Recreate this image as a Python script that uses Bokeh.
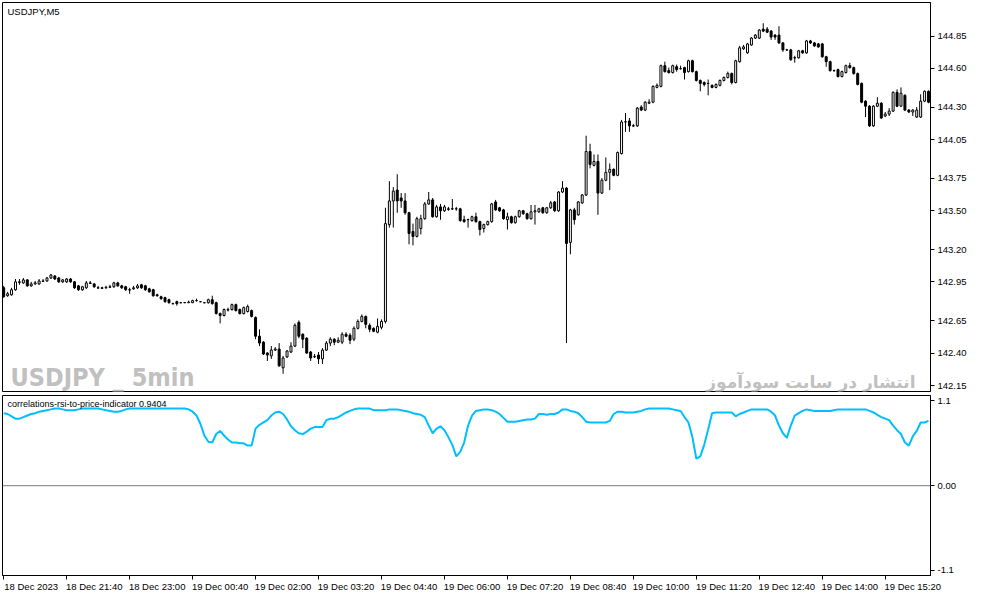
from bokeh.plotting import figure
from bokeh.layouts import column
from bokeh.models import (ColumnDataSource, Range1d, FixedTicker, NumeralTickFormatter, Label,
                          Span, LinearAxis)
from bokeh.embed import file_html
from bokeh.resources import INLINE

# USDJPY M5 bars, bar 0 = 18 Dec 2023 20:20
opens = [
    142.905, 142.844, 142.851, 142.890, 142.951, 142.943, 142.966, 142.920, 142.935, 142.935,
    142.958, 142.958, 142.981, 142.996, 142.981, 142.951, 142.951, 142.973, 142.951, 142.920,
    142.890, 142.905, 142.943, 142.935, 142.905, 142.905, 142.905, 142.909, 142.913, 142.943,
    142.920, 142.913, 142.890, 142.897, 142.905, 142.928, 142.920, 142.897, 142.890, 142.851,
    142.836, 142.829, 142.813, 142.783, 142.798, 142.790, 142.790, 142.790, 142.790, 142.806,
    142.798, 142.790, 142.790, 142.813, 142.790, 142.706, 142.691, 142.733, 142.737, 142.775,
    142.737, 142.706, 142.722, 142.729, 142.676, 142.531, 142.485, 142.401, 142.379, 142.424,
    142.432, 142.287, 142.371, 142.409, 142.455, 142.638, 142.546, 142.516, 142.409, 142.371,
    142.386, 142.356, 142.424, 142.478, 142.508, 142.485, 142.485, 142.546, 142.539, 142.508,
    142.592, 142.645, 142.684, 142.615, 142.592, 142.562, 142.600, 142.645, 143.393, 143.576,
    143.660, 143.599, 143.576, 143.485, 143.340, 143.302, 143.363, 143.439, 143.553, 143.584,
    143.454, 143.530, 143.500, 143.515, 143.515, 143.515, 143.515, 143.431, 143.431, 143.424,
    143.454, 143.416, 143.363, 143.393, 143.416, 143.568, 143.523, 143.507, 143.431, 143.454,
    143.408, 143.454, 143.500, 143.477, 143.439, 143.492, 143.492, 143.523, 143.485, 143.523,
    143.568, 143.500, 143.645, 143.675, 143.256, 143.507, 143.469, 143.561, 143.622, 143.958,
    143.851, 143.881, 143.637, 143.736, 143.797, 143.820, 143.774, 143.942, 144.186, 144.194,
    144.156, 144.156, 144.301, 144.278, 144.331, 144.339, 144.453, 144.461, 144.621, 144.583,
    144.568, 144.613, 144.598, 144.606, 144.575, 144.659, 144.575, 144.507, 144.491, 144.484,
    144.469, 144.453, 144.469, 144.507, 144.530, 144.560, 144.491, 144.652, 144.751, 144.720,
    144.781, 144.834, 144.834, 144.903, 144.903, 144.888, 144.857, 144.857, 144.797, 144.743,
    144.743, 144.682, 144.682, 144.736, 144.720, 144.812, 144.797, 144.789, 144.789, 144.690,
    144.652, 144.583, 144.591, 144.537, 144.568, 144.621, 144.606, 144.560, 144.484, 144.347,
    144.308, 144.156, 144.308, 144.331, 144.232, 144.247, 144.270, 144.415, 144.308, 144.392,
    144.278, 144.263, 144.224, 144.224, 144.347, 144.423,
]
highs = [
    142.920, 142.874, 142.905, 142.973, 142.973, 142.981, 142.973, 142.951, 142.958, 142.973,
    142.973, 142.989, 143.012, 143.004, 142.989, 142.973, 142.981, 142.981, 142.958, 142.928,
    142.920, 142.958, 142.958, 142.943, 142.920, 142.913, 142.920, 142.928, 142.951, 142.951,
    142.928, 142.920, 142.905, 142.920, 142.935, 142.935, 142.928, 142.905, 142.897, 142.859,
    142.844, 142.836, 142.821, 142.790, 142.806, 142.794, 142.794, 142.806, 142.813, 142.821,
    142.802, 142.794, 142.821, 142.844, 142.798, 142.714, 142.745, 142.752, 142.783, 142.783,
    142.745, 142.760, 142.775, 142.737, 142.684, 142.584, 142.493, 142.409, 142.455, 142.447,
    142.478, 142.379, 142.424, 142.485, 142.630, 142.653, 142.554, 142.523, 142.417, 142.394,
    142.409, 142.439, 142.493, 142.523, 142.516, 142.523, 142.562, 142.562, 142.554, 142.607,
    142.661, 142.699, 142.691, 142.630, 142.600, 142.668, 142.661, 143.523, 143.729, 143.683,
    143.782, 143.637, 143.637, 143.492, 143.401, 143.454, 143.469, 143.568, 143.645, 143.599,
    143.545, 143.553, 143.545, 143.530, 143.591, 143.530, 143.523, 143.462, 143.439, 143.462,
    143.485, 143.424, 143.401, 143.424, 143.561, 143.584, 143.530, 143.515, 143.485, 143.462,
    143.462, 143.507, 143.507, 143.485, 143.545, 143.545, 143.523, 143.530, 143.530, 143.576,
    143.576, 143.652, 143.729, 143.683, 143.515, 143.523, 143.576, 143.629, 144.080, 144.018,
    143.935, 143.935, 143.752, 143.912, 143.866, 143.828, 143.958, 144.202, 144.255, 144.217,
    144.171, 144.301, 144.316, 144.347, 144.362, 144.469, 144.484, 144.629, 144.652, 144.606,
    144.629, 144.629, 144.621, 144.613, 144.667, 144.667, 144.583, 144.514, 144.499, 144.514,
    144.476, 144.484, 144.514, 144.537, 144.575, 144.568, 144.667, 144.774, 144.781, 144.797,
    144.842, 144.865, 144.903, 144.949, 144.919, 144.896, 144.865, 144.926, 144.804, 144.751,
    144.751, 144.697, 144.743, 144.743, 144.820, 144.820, 144.804, 144.797, 144.797, 144.697,
    144.659, 144.591, 144.598, 144.583, 144.629, 144.644, 144.613, 144.568, 144.491, 144.354,
    144.316, 144.316, 144.377, 144.339, 144.263, 144.293, 144.423, 144.438, 144.453, 144.400,
    144.286, 144.286, 144.301, 144.400, 144.430, 144.430,
]
lows = [
    142.829, 142.836, 142.844, 142.882, 142.928, 142.935, 142.913, 142.913, 142.928, 142.928,
    142.951, 142.951, 142.973, 142.966, 142.943, 142.943, 142.943, 142.943, 142.897, 142.882,
    142.882, 142.897, 142.935, 142.905, 142.897, 142.897, 142.897, 142.905, 142.905, 142.913,
    142.897, 142.882, 142.859, 142.890, 142.897, 142.897, 142.882, 142.867, 142.836, 142.836,
    142.813, 142.790, 142.783, 142.779, 142.767, 142.787, 142.787, 142.787, 142.787, 142.798,
    142.794, 142.787, 142.783, 142.775, 142.699, 142.630, 142.684, 142.722, 142.729, 142.722,
    142.699, 142.699, 142.714, 142.676, 142.508, 142.455, 142.386, 142.340, 142.356, 142.417,
    142.295, 142.241, 142.363, 142.401, 142.447, 142.516, 142.439, 142.394, 142.340, 142.363,
    142.317, 142.317, 142.417, 142.455, 142.462, 142.478, 142.470, 142.523, 142.470, 142.493,
    142.584, 142.638, 142.592, 142.562, 142.562, 142.554, 142.584, 142.630, 143.370, 143.370,
    143.485, 143.523, 143.469, 143.241, 143.233, 143.294, 143.317, 143.431, 143.545, 143.447,
    143.447, 143.431, 143.492, 143.500, 143.507, 143.500, 143.416, 143.408, 143.370, 143.416,
    143.408, 143.309, 143.332, 143.386, 143.408, 143.500, 143.492, 143.431, 143.355, 143.401,
    143.401, 143.447, 143.469, 143.431, 143.431, 143.393, 143.485, 143.477, 143.477, 143.515,
    143.492, 143.492, 143.637, 142.478, 143.164, 143.393, 143.462, 143.553, 143.614, 143.828,
    143.843, 143.469, 143.629, 143.729, 143.660, 143.767, 143.767, 143.935, 144.110, 144.110,
    144.148, 144.148, 144.270, 144.270, 144.324, 144.331, 144.446, 144.453, 144.568, 144.560,
    144.560, 144.575, 144.591, 144.514, 144.568, 144.568, 144.499, 144.423, 144.461, 144.392,
    144.446, 144.446, 144.461, 144.499, 144.522, 144.476, 144.484, 144.644, 144.743, 144.713,
    144.774, 144.827, 144.827, 144.880, 144.873, 144.820, 144.820, 144.789, 144.728, 144.736,
    144.659, 144.644, 144.675, 144.713, 144.713, 144.789, 144.766, 144.759, 144.682, 144.613,
    144.575, 144.575, 144.530, 144.530, 144.560, 144.598, 144.552, 144.469, 144.331, 144.224,
    144.148, 144.148, 144.301, 144.209, 144.224, 144.232, 144.263, 144.301, 144.301, 144.270,
    144.255, 144.232, 144.217, 144.217, 144.339, 144.331,
]
closes = [
    142.836, 142.859, 142.890, 142.951, 142.947, 142.966, 142.920, 142.935, 142.943, 142.958,
    142.954, 142.981, 143.004, 142.973, 142.951, 142.966, 142.973, 142.951, 142.905, 142.890,
    142.913, 142.943, 142.939, 142.913, 142.903, 142.901, 142.909, 142.913, 142.943, 142.920,
    142.905, 142.890, 142.888, 142.905, 142.920, 142.905, 142.890, 142.874, 142.844, 142.844,
    142.821, 142.798, 142.790, 142.781, 142.783, 142.789, 142.791, 142.794, 142.806, 142.807,
    142.797, 142.789, 142.813, 142.783, 142.706, 142.691, 142.737, 142.737, 142.775, 142.729,
    142.706, 142.752, 142.760, 142.684, 142.531, 142.478, 142.394, 142.386, 142.424, 142.432,
    142.302, 142.363, 142.417, 142.455, 142.615, 142.531, 142.508, 142.401, 142.363, 142.375,
    142.356, 142.424, 142.478, 142.508, 142.485, 142.500, 142.546, 142.531, 142.500, 142.592,
    142.645, 142.684, 142.623, 142.584, 142.569, 142.607, 142.645, 143.401, 143.576, 143.652,
    143.576, 143.576, 143.485, 143.325, 143.302, 143.439, 143.439, 143.553, 143.584, 143.454,
    143.530, 143.500, 143.530, 143.511, 143.514, 143.516, 143.424, 143.416, 143.432, 143.454,
    143.416, 143.355, 143.393, 143.416, 143.553, 143.507, 143.500, 143.439, 143.454, 143.408,
    143.454, 143.500, 143.477, 143.439, 143.492, 143.500, 143.515, 143.485, 143.523, 143.561,
    143.500, 143.645, 143.675, 143.248, 143.507, 143.431, 143.568, 143.622, 143.958, 143.858,
    143.881, 143.637, 143.736, 143.797, 143.820, 143.774, 143.950, 144.186, 144.188, 144.156,
    144.155, 144.293, 144.278, 144.339, 144.339, 144.461, 144.469, 144.621, 144.575, 144.568,
    144.621, 144.591, 144.597, 144.568, 144.659, 144.575, 144.507, 144.484, 144.476, 144.483,
    144.453, 144.476, 144.507, 144.530, 144.560, 144.491, 144.659, 144.759, 144.766, 144.789,
    144.834, 144.857, 144.896, 144.888, 144.880, 144.842, 144.842, 144.797, 144.743, 144.742,
    144.667, 144.681, 144.736, 144.720, 144.812, 144.797, 144.774, 144.766, 144.690, 144.652,
    144.583, 144.582, 144.537, 144.575, 144.621, 144.606, 144.560, 144.476, 144.339, 144.308,
    144.156, 144.308, 144.331, 144.217, 144.247, 144.270, 144.415, 144.308, 144.408, 144.278,
    144.263, 144.278, 144.278, 144.347, 144.423, 144.339,
]
# correlations-rsi-to-price-indicator, one value per bar
corr = [
    0.94, 0.93, 0.90, 0.87, 0.87, 0.89, 0.91, 0.93, 0.94, 0.96,
    0.97, 0.98, 0.99, 1.00, 1.00, 0.99, 0.98, 0.98, 0.98, 0.99,
    1.00, 1.00, 1.00, 1.00, 1.00, 0.99, 0.98, 0.97, 0.96, 0.96,
    0.97, 0.99, 1.00, 1.00, 1.00, 1.00, 1.00, 1.00, 1.00, 1.00,
    1.00, 1.00, 1.00, 1.00, 1.00, 1.00, 1.00, 0.99, 0.96, 0.91,
    0.80, 0.65, 0.57, 0.56, 0.67, 0.71, 0.65, 0.60, 0.56, 0.56,
    0.55, 0.55, 0.52, 0.52, 0.74, 0.79, 0.82, 0.85, 0.91, 0.95,
    0.96, 0.93, 0.86, 0.77, 0.72, 0.68, 0.67, 0.70, 0.74, 0.76,
    0.76, 0.76, 0.85, 0.87, 0.87, 0.89, 0.92, 0.95, 0.97, 0.99,
    1.00, 1.00, 1.00, 1.00, 0.98, 0.98, 0.98, 0.98, 0.99, 0.99,
    0.99, 0.98, 0.97, 0.96, 0.94, 0.93, 0.92, 0.89, 0.78, 0.68,
    0.74, 0.77, 0.72, 0.63, 0.53, 0.38, 0.44, 0.56, 0.78, 0.91,
    0.97, 0.98, 0.99, 0.99, 0.98, 0.96, 0.93, 0.88, 0.83, 0.83,
    0.83, 0.84, 0.85, 0.86, 0.86, 0.87, 0.93, 0.93, 0.92, 0.93,
    0.93, 0.95, 0.99, 0.99, 0.97, 0.96, 0.94, 0.89, 0.83, 0.82,
    0.82, 0.82, 0.82, 0.82, 0.84, 0.93, 0.96, 0.96, 0.95, 0.95,
    0.95, 0.96, 0.97, 0.99, 1.00, 1.00, 1.00, 1.00, 1.00, 1.00,
    0.99, 0.98, 0.97, 0.89, 0.82, 0.63, 0.35, 0.38, 0.53, 0.73,
    0.94, 0.95, 0.95, 0.95, 0.95, 0.95, 0.90, 0.93, 0.95, 0.97,
    0.99, 0.99, 0.99, 0.99, 0.99, 0.96, 0.91, 0.78, 0.68, 0.62,
    0.78, 0.91, 0.94, 0.97, 0.99, 0.98, 0.97, 0.97, 0.97, 0.97,
    0.97, 0.98, 0.99, 0.99, 0.99, 0.99, 0.99, 0.99, 0.99, 0.99,
    0.97, 0.95, 0.92, 0.89, 0.87, 0.85, 0.78, 0.72, 0.67, 0.56,
    0.52, 0.64, 0.71, 0.82, 0.82, 0.84,
]

time_ticks = [0, 16, 32, 48, 64, 80, 96, 112, 128, 144, 160, 176, 192, 208, 224]
time_labels = ["18 Dec 2023", "18 Dec 21:40", "18 Dec 23:00", "19 Dec 00:40", "19 Dec 02:00",
               "19 Dec 03:20", "19 Dec 04:40", "19 Dec 06:00", "19 Dec 07:20", "19 Dec 08:40",
               "19 Dec 10:00", "19 Dec 11:20", "19 Dec 12:40", "19 Dec 14:00", "19 Dec 15:20"]
price_ticks = [142.15, 142.40, 142.65, 142.95, 143.20, 143.50, 143.75, 144.05, 144.30, 144.60, 144.85]
corr_ticks = [-1.1, 0.0, 1.1]
corr_tick_text = {-1.1: "-1.1", 0.0: "0.00", 1.1: "1.1"}

FONT = "Liberation Sans"
FW = 928
MAIN_H = 389
IND_H = 180
LABEL_SHIFT = 7  # bars: MT4 writes the time label to the right of its tick

bars = list(range(len(opens)))
src = ColumnDataSource(dict(
    x=bars, h=highs, l=lows,
    top=[max(o, c) for o, c in zip(opens, closes)],
    bottom=[min(o, c) for o, c in zip(opens, closes)],
    fill=["white" if c >= o else "black" for o, c in zip(opens, closes)],
))

xr = Range1d(-0.3, 235.5)


def style_axis(ax):
    ax.major_tick_in = 0
    ax.major_tick_out = 4
    ax.minor_tick_in = 0
    ax.minor_tick_out = 0
    ax.major_label_standoff = 3
    ax.major_label_text_font = FONT
    ax.major_label_text_font_size = "9.5px"
    ax.major_label_text_color = "black"
    ax.axis_line_color = "black"


# price pane
p = figure(frame_width=FW, frame_height=MAIN_H, min_border_left=2, min_border_right=41,
           min_border_top=2, min_border_bottom=1, x_range=xr, y_range=Range1d(142.104, 145.109),
           x_axis_location=None, y_axis_location="right", toolbar_location=None,
           output_backend="svg", outline_line_color="black", outline_line_alpha=1)
p.grid.visible = False
p.segment(x0="x", y0="l", x1="x", y1="h", source=src, line_color="black", line_width=1)
p.vbar(x="x", top="top", bottom="bottom", width=0.5, fill_color="fill",
       line_color="black", line_width=1, source=src)

ya = p.yaxis[0]
ya.ticker = FixedTicker(ticks=price_ticks)
ya.formatter = NumeralTickFormatter(format="0.00")
style_axis(ya)

p.add_layout(Label(x=5, y=MAIN_H - 9, x_units="screen", y_units="screen", text="USDJPY,M5",
                   text_font=FONT, text_font_size="9.5px", text_color="black",
                   text_baseline="middle"))
p.add_layout(Label(x=8, y=14, x_units="screen", y_units="screen", text="USDJPY _ 5min",
                   text_font="DejaVu Sans Condensed", text_font_style="bold",
                   text_font_size="25px", text_color="#c0c0c0", text_baseline="alphabetic"))
p.add_layout(Label(x=FW - 15, y=10, x_units="screen", y_units="screen",
                   text="انتشار در سایت سودآموز", text_align="right",
                   text_font="DejaVu Sans", text_font_style="bold",
                   text_font_size="17px", text_color="#c0c0c0", text_baseline="alphabetic"))

# indicator pane
q = figure(frame_width=FW, frame_height=IND_H, min_border_left=2, min_border_right=41,
           min_border_top=3, x_range=xr, y_range=Range1d(-1.165, 1.17),
           y_axis_location="right", toolbar_location=None, output_backend="svg",
           outline_line_color="black", outline_line_alpha=1)
q.grid.visible = False
q.add_layout(Span(location=0, dimension="width", line_color="#7a7a7a", line_width=1))
q.line(bars, corr, line_color="#00bfff", line_width=2)

qa = q.yaxis[0]
qa.ticker = FixedTicker(ticks=corr_ticks)
qa.major_label_overrides = corr_tick_text
style_axis(qa)

# tick marks at the label times, no text
xa = q.xaxis[0]
xa.ticker = FixedTicker(ticks=time_ticks)
style_axis(xa)
xa.major_label_overrides = {t: "" for t in time_ticks}
xa.major_label_text_font_size = "0px"
xa.major_label_standoff = 0

# second axis carries the text, centred so it starts at the tick
label_pos = [t + LABEL_SHIFT for t in time_ticks]
xb = LinearAxis(ticker=FixedTicker(ticks=label_pos),
                major_label_overrides=dict(zip(label_pos, time_labels)))
style_axis(xb)
xb.major_tick_out = 0
xb.axis_line_color = None
xb.major_label_standoff = 1
q.add_layout(xb, "below")

q.add_layout(Label(x=5, y=IND_H - 8, x_units="screen", y_units="screen",
                   text="correlations-rsi-to-price-indicator 0.9404",
                   text_font=FONT, text_font_size="9px", text_color="black",
                   text_baseline="middle"))

layout = column(p, q, spacing=0)
open("out.html", "w").write(file_html(layout, INLINE))
